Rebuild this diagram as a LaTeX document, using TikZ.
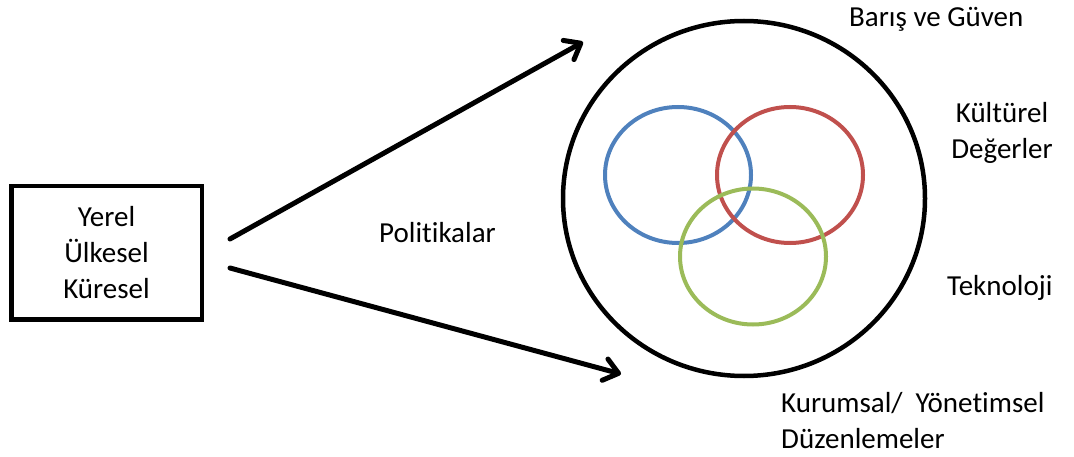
\documentclass[tikz,border=0pt]{standalone}
\usepackage{fontspec}
\setmainfont{Carlito}[Ligatures=NoCommon]
\usetikzlibrary{arrows.meta,shapes.geometric}

\definecolor{halkaMavi}{HTML}{4F81BD}
\definecolor{halkaKirmizi}{HTML}{C0504D}
\definecolor{halkaYesil}{HTML}{9BBB59}

\tikzset{
    yazi/.style={font=\fontsize{29}{36}\selectfont, inner sep=0pt},
    ok/.style={line width=5pt, line cap=round, -{Straight Barb[length=14pt,width=22pt,round]}},
    halka/.style={ellipse, draw, line width=4pt, minimum width=146pt, minimum height=136pt, inner sep=0pt},
}

\begin{document}
\begin{tikzpicture}[x=1pt,y=-1pt]
        \useasboundingbox (0,0) rectangle (1074,457);

        \node[yazi,draw,line width=4.5pt,minimum width=190.5pt,minimum height=133.5pt,align=center] (Y) at (106.5,252.75) {Yerel\\Ülkesel\\Küresel};

        \node[ellipse,draw,line width=4.5pt,minimum width=362pt,minimum height=355pt] (D) at (744,198.5) {};
        \node[halka,draw=halkaMavi] (M) at (678,175) {};
        \node[halka,draw=halkaKirmizi] (K) at (790,175) {};
        \node[halka,draw=halkaYesil] (G) at (753,256.5) {};

        \coordinate (A1) at (230,239);
        \coordinate (B1) at (583,42);
        \coordinate (A2) at (230,268);
        \coordinate (B2) at (621,374);

        \draw[ok] (A1) -- (B1);
        \draw[ok] (A2) -- (B2);

        \node[yazi,anchor=base west] (P) at (379,243) {Politikalar};
        \node[yazi,anchor=base west] (BG) at (849,26.5) {Barış ve Güven};
        \node[yazi,anchor=base,align=center] (KD) at (1002,159) {Kültürel\\Değerler};
        \node[yazi,anchor=base west] (T) at (947,295) {Teknoloji};
        \node[yazi,anchor=base west,align=left] (KY) at (781,448) {Kurumsal/\ \ Yönetimsel\\Düzenlemeler};

    \end{tikzpicture}
\end{document}
